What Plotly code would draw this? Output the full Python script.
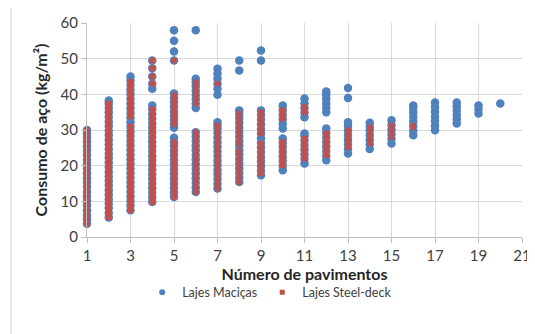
import plotly.graph_objects as go

# Lajes Maciças (blue) - consumo de aço por número de pavimentos
mac_1 = [3.7, 5.0, 6.2, 7.5, 8.9, 10.1, 11.4, 12.6, 14.0, 15.3, 16.5, 17.8, 19.1, 20.4, 21.6, 22.9, 24.2, 25.4, 26.7, 28.0, 29.1, 30.0]
mac_2 = [5.5, 6.8, 8.1, 9.4, 10.6, 11.9, 13.2, 14.5, 15.8, 17.0, 18.3, 19.6, 20.9, 22.2, 23.4, 24.7, 26.0, 27.3, 28.6, 29.8, 31.1, 32.4, 33.7, 35.0, 36.2, 37.4, 38.3]
mac_3 = [7.5, 8.8, 10.1, 11.4, 12.7, 14.0, 15.3, 16.6, 17.9, 19.2, 20.5, 21.8, 23.1, 24.4, 25.7, 27.0, 28.3, 29.6, 30.9, 32.2, 33.5, 34.8, 36.1, 37.4, 38.7, 40.0, 41.3, 42.6, 43.9, 45.0]
mac_4 = [9.8, 11.1, 12.4, 13.7, 15.0, 16.3, 17.6, 18.9, 20.2, 21.5, 22.8, 24.1, 25.4, 26.7, 28.0, 29.3, 30.6, 31.9, 33.2, 34.5, 35.8, 36.9, 41.6, 43.0, 45.0, 47.3, 49.5]
mac_5 = [11.2, 12.5, 13.8, 15.1, 16.4, 17.7, 19.0, 20.3, 21.6, 22.9, 24.2, 25.5, 26.6, 27.8, 30.6, 31.6, 32.8, 34.0, 35.2, 36.5, 37.8, 39.0, 40.2, 49.5, 52.0, 55.0, 58.0]
mac_6 = [12.6, 13.9, 15.2, 16.5, 17.8, 19.1, 20.4, 21.7, 23.0, 24.3, 25.6, 26.9, 28.2, 29.4, 36.2, 37.4, 38.6, 39.8, 41.0, 42.2, 43.4, 44.4, 58.0]
mac_7 = [13.6, 14.9, 16.2, 17.5, 18.8, 20.1, 21.4, 22.7, 24.0, 25.3, 26.6, 27.9, 29.2, 30.5, 31.3, 32.2, 39.9, 41.6, 43.0, 44.4, 45.8, 47.2]
mac_8 = [15.4, 16.7, 18.0, 19.3, 20.6, 21.9, 23.2, 24.3, 25.7, 26.8, 28.1, 29.4, 30.7, 32.0, 33.3, 34.5, 35.5, 46.7, 49.5]
mac_9 = [17.3, 18.6, 19.9, 21.2, 22.5, 23.8, 25.1, 26.4, 27.7, 29.0, 30.3, 31.6, 32.9, 34.2, 35.5, 49.5, 52.3]
mac_10 = [18.7, 20.0, 21.3, 22.6, 23.9, 25.2, 26.5, 27.6, 30.4, 31.7, 33.0, 34.3, 35.6, 36.9]
mac_11 = [20.6, 21.9, 23.2, 24.5, 25.8, 27.1, 28.3, 29.0, 33.6, 34.9, 36.2, 37.5, 38.8]
mac_12 = [21.5, 22.8, 24.1, 25.4, 26.7, 28.0, 29.3, 30.4, 35.0, 36.2, 37.4, 38.6, 39.8, 40.8]
mac_13 = [23.4, 24.7, 26.0, 27.3, 28.6, 29.9, 31.1, 32.2, 39.0, 41.8]
mac_14 = [24.7, 26.0, 27.3, 28.6, 29.9, 31.0, 32.0]
mac_15 = [26.2, 27.5, 28.8, 30.1, 31.4, 32.7]
mac_16 = [28.5, 29.8, 31.1, 32.4, 33.7, 35.0, 36.2, 36.9]
mac_17 = [29.9, 31.2, 32.5, 33.8, 35.1, 36.4, 37.7]
mac_18 = [31.8, 33.0, 34.2, 35.4, 36.6, 37.7]
mac_19 = [34.6, 35.8, 36.9]
mac_20 = [37.4]

# Lajes Steel-deck (red)
stl_1 = [3.7, 5.0, 6.3, 7.6, 8.8, 10.1, 11.3, 12.7, 13.9, 15.2, 16.6, 17.8, 19.0, 20.3, 21.7, 22.9, 24.1, 25.5, 26.7, 27.9, 29.2, 30.0]
stl_2 = [5.5, 6.8, 8.1, 9.4, 10.6, 11.9, 13.2, 14.5, 15.8, 17.0, 18.3, 19.6, 20.9, 22.2, 23.4, 24.7, 26.0, 27.3, 28.6, 29.8, 31.1, 32.4, 33.7, 35.0, 36.2, 37.4]
stl_3 = [7.5, 8.8, 10.1, 11.4, 12.7, 14.0, 15.3, 16.6, 17.9, 19.2, 20.5, 21.8, 23.1, 24.4, 25.7, 27.0, 28.3, 29.6, 31.0, 33.8, 35.0, 36.1, 37.4, 38.7, 40.0, 41.3, 42.6, 43.5]
stl_4 = [9.8, 11.1, 12.4, 13.7, 15.0, 16.3, 17.6, 18.9, 20.2, 21.5, 22.8, 24.1, 25.4, 26.7, 28.0, 29.3, 30.6, 31.9, 33.2, 34.5, 35.8, 43.0, 45.0, 47.3, 49.5]
stl_5 = [11.2, 12.5, 13.8, 15.1, 16.4, 17.7, 19.0, 20.3, 21.6, 22.9, 24.2, 25.5, 26.6, 31.6, 32.8, 34.0, 35.2, 36.5, 37.8, 39.0, 39.7, 49.5]
stl_6 = [12.6, 13.9, 15.2, 16.5, 17.8, 19.1, 20.4, 21.7, 23.0, 24.3, 25.6, 26.9, 28.2, 29.4, 37.4, 38.6, 39.8, 41.0, 42.2, 43.4]
stl_7 = [13.6, 14.9, 16.2, 17.5, 18.8, 20.1, 21.4, 22.7, 24.0, 25.3, 26.6, 27.9, 29.2, 30.5, 31.3, 43.0]
stl_8 = [15.4, 16.7, 18.0, 19.3, 20.6, 21.9, 23.2, 24.3, 26.2, 27.5, 28.8, 30.1, 31.4, 32.7, 33.9, 34.6]
stl_9 = [17.8, 19.1, 20.4, 21.7, 23.0, 24.3, 25.5, 26.2, 29.0, 30.3, 31.6, 32.9, 34.2, 35.0]
stl_10 = [20.1, 21.4, 22.7, 24.0, 25.3, 26.6, 33.2, 34.4, 35.5]
stl_11 = [22.0, 23.3, 24.6, 25.9, 27.0, 27.6, 35.0, 36.4]
stl_12 = [22.9, 24.2, 25.5, 26.8, 28.0, 29.0]
stl_13 = [25.2, 26.5, 27.8, 29.0, 29.9]
stl_14 = [26.2, 27.5, 28.8, 30.0, 30.8]
stl_15 = [28.0, 29.2, 30.3, 31.3]
stl_16 = [30.8, 31.2]

mac = [mac_1, mac_2, mac_3, mac_4, mac_5, mac_6, mac_7, mac_8, mac_9, mac_10,
       mac_11, mac_12, mac_13, mac_14, mac_15, mac_16, mac_17, mac_18, mac_19, mac_20]
stl = [stl_1, stl_2, stl_3, stl_4, stl_5, stl_6, stl_7, stl_8,
       stl_9, stl_10, stl_11, stl_12, stl_13, stl_14, stl_15, stl_16]

BLUE = "#4F81BD"
RED = "#C0504D"


def flatten(groups):
    xs, ys = [], []
    for i, g in enumerate(groups):
        xs += [i + 1] * len(g)
        ys += g
    return xs, ys


mac_x, mac_y = flatten(mac)
stl_x, stl_y = flatten(stl)

fig = go.Figure()
fig.add_trace(go.Scatter(x=mac_x, y=mac_y, mode="markers", name="Lajes Maciças",
                         marker=dict(symbol="circle", size=8.5, color=BLUE),
                         cliponaxis=False, showlegend=False))
fig.add_trace(go.Scatter(x=stl_x, y=stl_y, mode="markers", name="Lajes Steel-deck",
                         marker=dict(symbol="square", size=5.5, color=RED),
                         cliponaxis=False, showlegend=False))
# legend entries with the small Excel-like symbols
fig.add_trace(go.Scatter(x=[None], y=[None], mode="markers", name="Lajes Maciças",
                         marker=dict(symbol="circle", size=6, color=BLUE)))
fig.add_trace(go.Scatter(x=[None], y=[None], mode="markers", name="Lajes Steel-deck",
                         marker=dict(symbol="square", size=5, color=RED)))

# chart area frame
fig.add_shape(type="rect", xref="paper", yref="paper",
              x0=-0.1747, x1=1.041, y0=-0.481, y1=1.0748,
              line=dict(color="#D0D0D0", width=1), layer="below")

# page body keeps an 8px margin, so the figure is 8px smaller than the window
fig.update_layout(
    width=527, height=326,
    margin=dict(l=79, r=13, t=15, b=97, autoexpand=False),
    paper_bgcolor="white", plot_bgcolor="white",
    font=dict(family="Lato", color="#404040"),
    showlegend=True,
    legend=dict(orientation="h", x=0.42, xanchor="center", y=-0.26, yanchor="middle",
                font=dict(size=12.5, color="#404040"), itemwidth=30),
    xaxis=dict(range=[1, 21], tick0=1, dtick=2, showgrid=True, gridcolor="#D9D9D9",
               showline=True, linecolor="#BFBFBF", ticks="outside", tickcolor="#BFBFBF",
               ticklen=5, zeroline=False, tickfont=dict(size=15), automargin=False,
               title=dict(text="<b>Número de pavimentos</b>", font=dict(size=16, color="#262626"),
                          standoff=0)),
    yaxis=dict(range=[0, 60], dtick=10, showgrid=True, gridcolor="#D9D9D9",
               showline=True, linecolor="#BFBFBF", ticks="outside", tickcolor="#BFBFBF",
               ticklen=5, zeroline=False, tickfont=dict(size=15), automargin=False,
               title=dict(text="<b>Consumo de aço (kg/m²)</b>", font=dict(size=16, color="#262626"),
                          standoff=8)),
)

fig.write_html("out.html")
